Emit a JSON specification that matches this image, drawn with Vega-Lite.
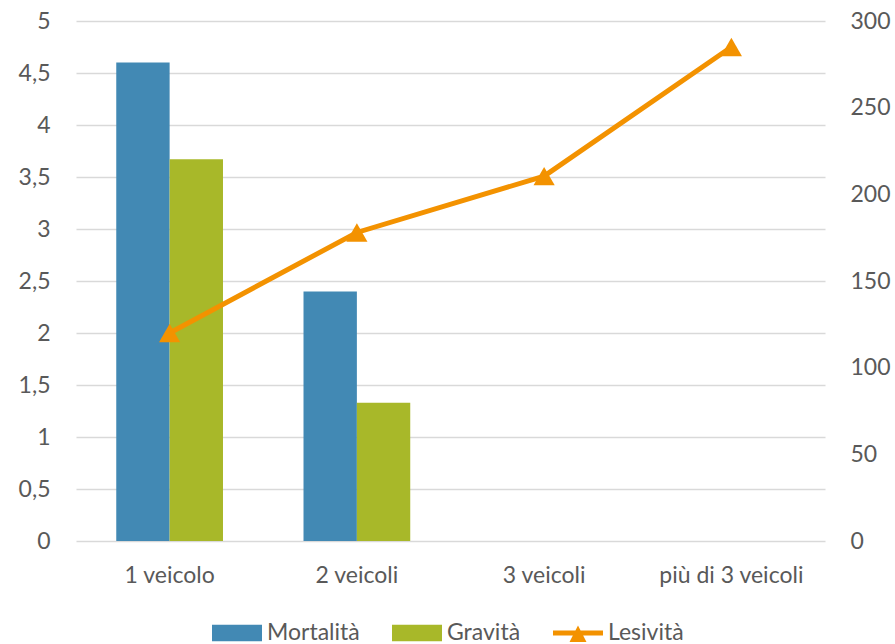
{
  "$schema": "https://vega.github.io/schema/vega-lite/v6.json",
  "width": 749,
  "height": 520,
  "autosize": {"type": "none"},
  "padding": {"left": 76, "top": 21, "right": 70, "bottom": 103},
  "config": {
    "view": {"stroke": null},
    "font": "Lato",
    "axis": {"labelFont": "Lato", "labelFontSize": 23, "labelColor": "#595959", "domain": false, "ticks": false, "title": null}
  },
  "data": {
    "values": [
      {"categoria": "1 veicolo", "serie": "Mortalità", "valore": 4.6},
      {"categoria": "1 veicolo", "serie": "Gravità", "valore": 3.67},
      {"categoria": "2 veicoli", "serie": "Mortalità", "valore": 2.4},
      {"categoria": "2 veicoli", "serie": "Gravità", "valore": 1.33},
      {"categoria": "1 veicolo", "serie": "Lesività", "valore": 120},
      {"categoria": "2 veicoli", "serie": "Lesività", "valore": 178},
      {"categoria": "3 veicoli", "serie": "Lesività", "valore": 210.5},
      {"categoria": "più di 3 veicoli", "serie": "Lesività", "valore": 285}
    ]
  },
  "encoding": {
    "x": {
      "field": "categoria",
      "type": "nominal",
      "scale": {"domain": ["1 veicolo", "2 veicoli", "3 veicoli", "più di 3 veicoli"], "paddingInner": 0.43, "paddingOuter": 0.215},
      "axis": {"labelAngle": 0, "labelPadding": 23, "grid": false}
    }
  },
  "layer": [
    {
      "transform": [{"filter": "datum.serie !== 'Lesività'"}],
      "mark": {"type": "bar"},
      "encoding": {
        "xOffset": {"field": "serie", "type": "nominal", "scale": {"domain": ["Mortalità", "Gravità"], "paddingInner": 0, "paddingOuter": 0}},
        "y": {
          "field": "valore",
          "type": "quantitative",
          "scale": {"domain": [0, 5], "nice": false},
          "axis": {
            "values": [0, 0.5, 1, 1.5, 2, 2.5, 3, 3.5, 4, 4.5, 5],
            "labelExpr": "replace(format(datum.value, '~g'), '.', ',')",
            "labelPadding": 26,
            "grid": true,
            "gridColor": "#D9D9D9",
            "gridWidth": 1.5
          }
        },
        "color": {
          "field": "serie",
          "type": "nominal",
          "scale": {"domain": ["Mortalità", "Gravità", "Lesività"], "range": ["#4289B4", "#A8B829", "#F39200"]},
          "legend": {
            "title": null,
            "orient": "none",
            "legendX": 136,
            "legendY": 587,
            "direction": "horizontal",
            "labelFont": "Lato",
            "labelFontSize": 23,
            "labelColor": "#595959",
            "labelOffset": 5,
            "columnPadding": 32,
            "symbolSize": 2500,
            "symbolStrokeWidth": 0,
            "encode": {
              "symbols": {
                "update": {
                  "shape": {"signal": "datum.value === 'Lesività' ? 'M-1,-0.1 L1,-0.1 L1,0.1 L-1,0.1 Z M-0.34,0.36 L0,-0.3 L0.34,0.36 Z' : 'M-1,-0.33 L1,-0.33 L1,0.33 L-1,0.33 Z'"},
                  "fill": {"scale": "color", "field": "value"},
                  "strokeWidth": {"value": 0},
                  "opacity": {"value": 1},
                  "fillOpacity": {"value": 1}
                }
              }
            }
          }
        }
      }
    },
    {
      "transform": [{"filter": "datum.serie === 'Lesività'"}],
      "mark": {"type": "line", "strokeWidth": 5, "point": {"shape": "triangle-up", "size": 450, "filled": true, "opacity": 1}},
      "encoding": {
        "y": {
          "field": "valore",
          "type": "quantitative",
          "scale": {"domain": [0, 300], "nice": false},
          "axis": {
            "orient": "right",
            "values": [0, 50, 100, 150, 200, 250, 300],
            "labelPadding": 25,
            "labelAlign": "left",
            "grid": false
          }
        },
        "color": {"field": "serie", "type": "nominal"}
      }
    }
  ],
  "resolve": {"scale": {"y": "independent"}}
}
